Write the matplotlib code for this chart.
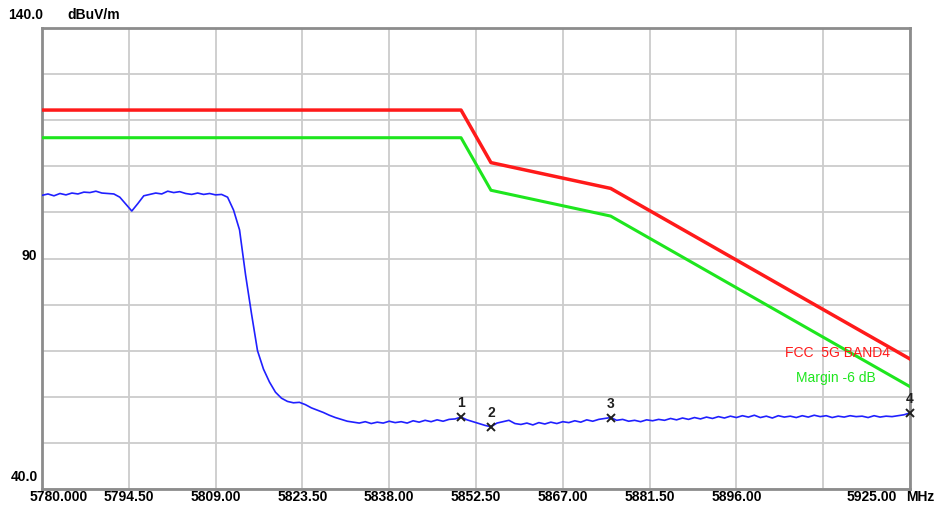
import numpy as np
import matplotlib
matplotlib.use('Agg')
from matplotlib import pyplot as plt
from matplotlib import transforms

plt.rcParams['font.family'] = ['Liberation Sans', 'DejaVu Sans']

# 频率轴 (MHz)
f_start = 5780.0
f_stop = 5925.0
tick_freqs = [5780.0, 5794.5, 5809.0, 5823.5, 5838.0, 5852.5, 5867.0, 5881.5, 5896.0, 5910.5, 5925.0]
tick_labels = ['5780.000', '5794.50', '5809.00', '5823.50', '5838.00', '5852.50',
               '5867.00', '5881.50', '5896.00', '', '5925.00']

# FCC 5G BAND4 限值线与 -6 dB 裕量线
limit_freq = [5780.0, 5850.0, 5855.0, 5875.0, 5925.0]
limit_level = [122.2, 122.2, 110.8, 105.2, 68.2]
margin_level = [116.2, 116.2, 104.8, 99.2, 62.2]

# 实测曲线, 每 1 MHz 一个点 (5780 ~ 5925)
trace_freq = np.arange(5780, 5926, 1.0)
trace_level = [
    103.7, 104.0, 103.6, 104.1, 103.8, 104.2, 104.0, 104.4, 104.3, 104.6,
    104.2, 104.1, 104.0, 103.3, 101.8, 100.3, 101.9, 103.6, 103.9, 104.2,
    104.0, 104.6, 104.3, 104.5, 104.1, 103.9, 104.2, 103.9, 104.1, 103.8,
    103.9, 103.3, 100.5, 96.2, 86.5, 78.0, 70.0, 66.0, 63.2, 61.0,
    59.7, 59.0, 58.7, 58.8, 58.3, 57.6, 57.1, 56.6, 56.0, 55.5,
    55.1, 54.7, 54.5, 54.3, 54.6, 54.2, 54.5, 54.3, 54.7, 54.4,
    54.6, 54.3, 54.8, 54.5, 54.9, 54.6, 55.0, 54.7, 55.1, 55.2,
    55.6, 55.0, 54.6, 54.2, 53.8, 53.5, 54.3, 54.6, 54.9, 54.2,
    54.0, 54.3, 53.9, 54.4, 54.1, 54.5, 54.2, 54.6, 54.4, 54.8,
    54.5, 55.0, 54.7, 55.1, 55.3, 55.5, 54.9, 55.1, 54.7, 54.9,
    54.6, 55.0, 54.8, 55.1, 54.9, 55.3, 55.0, 55.4, 55.1, 55.5,
    55.2, 55.6, 55.3, 55.7, 55.4, 55.8, 55.5, 55.9, 55.6, 56.0,
    55.5, 55.8, 55.4, 55.9, 55.6, 55.8, 55.5, 55.9, 55.6, 56.0,
    55.7, 55.9, 55.5, 55.8, 55.6, 55.9, 55.7, 55.8, 55.5, 55.9,
    55.6, 55.8, 55.7, 55.9, 56.1, 56.5,
]

# 标记点
marker_no = ['1', '2', '3', '4']
marker_freq = [5850.0, 5855.0, 5875.0, 5925.0]
marker_level = [55.6, 53.5, 55.5, 56.5]

W, H = 941, 511
fig = plt.figure(figsize=(W / 100, H / 100), dpi=100)
ax = fig.add_axes([42 / W, 1 - 489 / H, (910 - 42) / W, (489 - 28) / H])

ax.set_xlim(f_start, f_stop)
ax.set_ylim(40, 140)
ax.set_xticks(tick_freqs)
ax.set_yticks(np.arange(40, 141, 10))
ax.grid(True, color='#cccccc', linewidth=1.3)
ax.tick_params(length=0, labelbottom=False, labelleft=False)
for s in ax.spines.values():
    s.set_color('#8c8c8c')
    s.set_linewidth(2)

ax.plot(limit_freq, limit_level, color='#ff1a1a', linewidth=2.5, zorder=3)
ax.plot(limit_freq, margin_level, color='#1ee61e', linewidth=2.2, zorder=3)
ax.plot(trace_freq, trace_level, color='#2020ff', linewidth=1.2, zorder=4)

for n, fx, lv in zip(marker_no, marker_freq, marker_level):
    ax.plot(fx, lv, marker='x', color='#202020', markersize=6, mew=1.4, zorder=5, clip_on=False)
    ax.annotate(n, (fx, lv), xytext=(0, 5), textcoords='offset points', ha='center', va='bottom',
                fontsize=10, fontweight='bold', color='#202020', annotation_clip=False)

ax.text(0.977, 0.296, 'FCC  5G BAND4', transform=ax.transAxes, color='#ff1a1a',
        fontsize=10, ha='right', va='center')
ax.text(0.96, 0.24, 'Margin -6 dB', transform=ax.transAxes, color='#1ee61e',
        fontsize=10, ha='right', va='center')

# 坐标文字
tr = transforms.blended_transform_factory(ax.transData, fig.transFigure)
ty = 1 - 497 / H
for fx, lab in zip(tick_freqs, tick_labels):
    if lab == '':
        continue
    if fx == f_start:
        fig.text(30 / W, ty, lab, ha='left', va='center', fontsize=10, fontweight='bold')
    elif fx == f_stop:
        fig.text(897 / W, ty, lab, ha='right', va='center', fontsize=10, fontweight='bold')
    else:
        ax.text(fx, ty, lab, transform=tr, ha='center', va='center', fontsize=10, fontweight='bold')
fig.text(906 / W, ty, 'MHz', ha='left', va='center', fontsize=10, fontweight='bold')

fig.text(8 / W, 1 - 15 / H, '140.0', ha='left', va='center', fontsize=10, fontweight='bold')
fig.text(67 / W, 1 - 15 / H, 'dBuV/m', ha='left', va='center', fontsize=10, fontweight='bold')
fig.text(37 / W, 1 - 256 / H, '90', ha='right', va='center', fontsize=10, fontweight='bold')
fig.text(38 / W, 1 - 477 / H, '40.0', ha='right', va='center', fontsize=10, fontweight='bold')

fig.savefig('out.png', dpi=100, facecolor='white')
